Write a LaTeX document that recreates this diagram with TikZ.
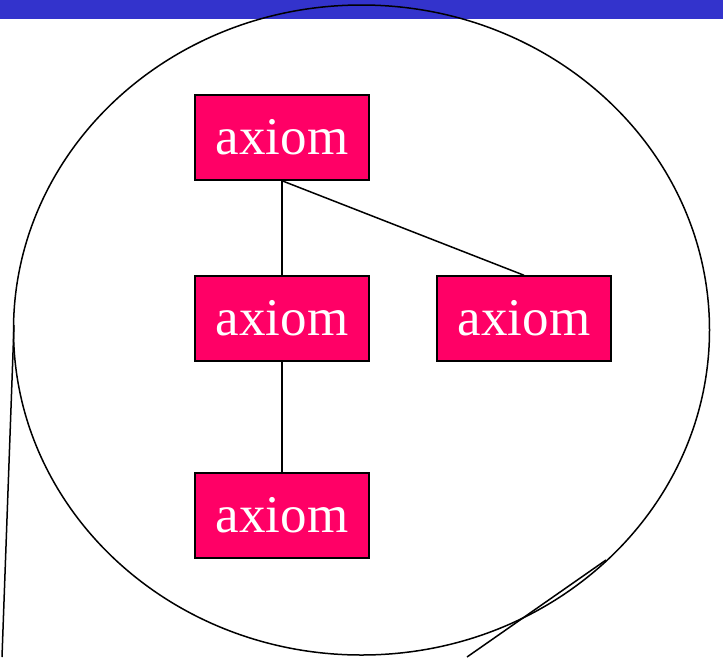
\documentclass[tikz,border=0pt]{standalone}
\usepackage{fontspec}
\setmainfont{Liberation Serif}
\usetikzlibrary{positioning}
\definecolor{barblue}{HTML}{3333CC}
\definecolor{axiomred}{HTML}{FF0066}
\tikzset{
    axiombox/.style={draw, line width=1.5pt, fill=axiomred, text=white,
                     minimum width=174, minimum height=85, inner sep=0pt,
                     font=\fontsize{53}{60}\selectfont},
    link/.style={line width=1.5pt},
}

\begin{document}
\begin{tikzpicture}[x=1pt, y=-1pt]
    \path[use as bounding box] (0,0) rectangle (723,657);

    % title bar and lens
    \fill[barblue] (0,0) rectangle (723,19);
    \draw[link] (361.5,330) ellipse [x radius=348, y radius=325];
    \coordinate (lensleft) at (14,325);
    \coordinate (lensright) at (606,560);
    \coordinate (tipleft) at (2,657);
    \coordinate (tipright) at (467,657);
    \draw[link] (lensleft) -- (tipleft);
    \draw[link] (lensright) -- (tipright);

    % axiom tree
    \node[axiombox] (top) at (282,137.5) {axiom};
    \node[axiombox] (mid) at (282,318.5) {axiom};
    \node[axiombox] (side) at (524,318.5) {axiom};
    \node[axiombox] (low) at (282,515.5) {axiom};
    \draw[link] (top.south) -- (mid.north);
    \draw[link] (top.south) -- (side.north);
    \draw[link] (mid.south) -- (low.north);

\end{tikzpicture}
\end{document}
